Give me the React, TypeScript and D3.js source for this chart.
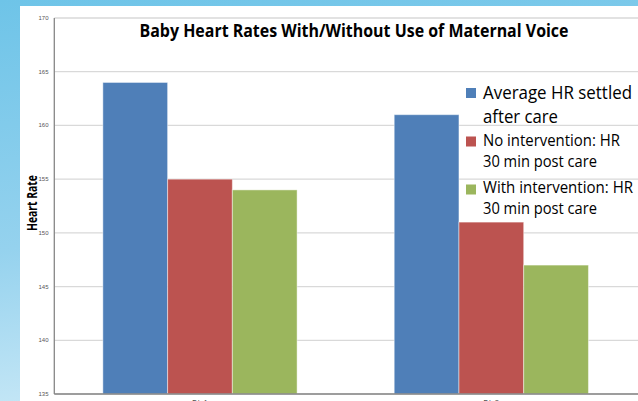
import React from "react";
import * as d3 from "d3";

const categories = ["Pt 1", "Pt 2"];
const seriesNames = [
  "Average HR settled after care",
  "No intervention: HR 30 min post care",
  "With intervention: HR 30 min post care",
];
const avgSettled = [164, 161];
const noIntervention = [155, 151];
const withIntervention = [154, 147];
const yTicks = [135, 140, 145, 150, 155, 160, 165, 170];
const colors = ["#4F7FB8", "#BC5350", "#9BB65D"];

const W = 638;
const H = 401;

export default function App() {
  const seriesValues = [avgSettled, noIntervention, withIntervention];
  const left = 54.3;
  const right = 637;
  const top = 18;
  const bottom = 394;
  const y = d3.scaleLinear().domain([135, 170]).range([bottom, top]);
  const x0 = d3
    .scaleBand<string>()
    .domain(categories)
    .range([left, right])
    .paddingInner(1 / 3)
    .paddingOuter(1 / 6);
  const x1 = d3
    .scaleBand<number>()
    .domain(d3.range(seriesNames.length))
    .range([0, x0.bandwidth()]);

  const legendItems = [
    { lines: ["Average HR settled", "after care"], lens: [149, 75], size: 19, y0: 99, dy: 24, sq: 88 },
    { lines: ["No intervention: HR", "30 min post care"], lens: [137, 114], size: 15.5, y0: 146, dy: 21, sq: 136.5 },
    { lines: ["With intervention: HR", "30 min post care"], lens: [150, 114], size: 15.5, y0: 193, dy: 21, sq: 184.5 },
  ];

  return (
    <svg
      width={W}
      height={H}
      style={{ position: "absolute", left: 0, top: 0, display: "block" }}
      fontFamily="Carlito, Calibri, 'Open Sans', sans-serif"
    >
      <defs>
        <linearGradient id="bg" x1="0" y1="0" x2="0.2" y2="1">
          <stop offset="0" stopColor="#6EC4E8" />
          <stop offset="0.6" stopColor="#95D2EE" />
          <stop offset="1" stopColor="#C6E7F6" />
        </linearGradient>
      </defs>
      <rect x={0} y={0} width={W} height={H} fill="url(#bg)" />
      <rect x={20} y={6} width={W - 20} height={H - 6} fill="#ffffff" />

      {yTicks.map((t) => (
        <line
          key={"g" + t}
          x1={left}
          x2={W}
          y1={y(t)}
          y2={y(t)}
          stroke="#D9D9D9"
          strokeWidth={1.3}
        />
      ))}

      {categories.map((c, ci) => (
        <g key={c} transform={`translate(${x0(c)},0)`}>
          {seriesValues.map((vals, si) => (
            <rect
              key={si}
              x={x1(si)}
              y={y(vals[ci])}
              width={x1.bandwidth()}
              height={y(135) - y(vals[ci])}
              fill={colors[si]}
              stroke="#ffffff"
              strokeOpacity={0.45}
              strokeWidth={1}
            />
          ))}
        </g>
      ))}

      <line x1={left} x2={left} y1={top} y2={bottom} stroke="#868686" strokeWidth={1.3} />
      <line x1={left} x2={W} y1={bottom} y2={bottom} stroke="#868686" strokeWidth={1.3} />
      {yTicks.map((t) => (
        <text
          key={"t" + t}
          x={48.5}
          y={y(t) + 2}
          fontSize={6}
          textAnchor="end"
          fill="#555"
          fontFamily="'Liberation Sans', sans-serif"
        >
          {t}
        </text>
      ))}
      {categories.map((c) => (
        <text
          key={"c" + c}
          x={(x0(c) as number) + x0.bandwidth() / 2}
          y={407}
          fontSize={10}
          textAnchor="middle"
          fill="#555"
        >
          {c}
        </text>
      ))}

      <text
        transform={`translate(36.5,${203}) rotate(-90)`}
        textAnchor="middle"
        fontSize={14}
        fontWeight="bold"
        fill="#000"
        fontFamily="'Open Sans', sans-serif"
        textLength={56}
        lengthAdjust="spacingAndGlyphs"
      >
        Heart Rate
      </text>

      <text
        x={354}
        y={37}
        textAnchor="middle"
        fontSize={17}
        fontWeight="bold"
        fill="#000"
        fontFamily="'Open Sans', sans-serif"
        textLength={429}
        lengthAdjust="spacingAndGlyphs"
      >
        Baby Heart Rates With/Without Use of Maternal Voice
      </text>

      {legendItems.map((it, i) => (
        <g key={"l" + i}>
          <rect x={466} y={it.sq} width={10} height={10} fill={colors[i]} />
          {it.lines.map((ln, li) => (
            <text
              key={li}
              x={483}
              y={it.y0 + li * it.dy}
              fontSize={it.size}
              fill="#000"
              fontFamily="'Open Sans', sans-serif"
              textLength={it.lens[li]}
              lengthAdjust="spacingAndGlyphs"
            >
              {ln}
            </text>
          ))}
        </g>
      ))}
    </svg>
  );
}
